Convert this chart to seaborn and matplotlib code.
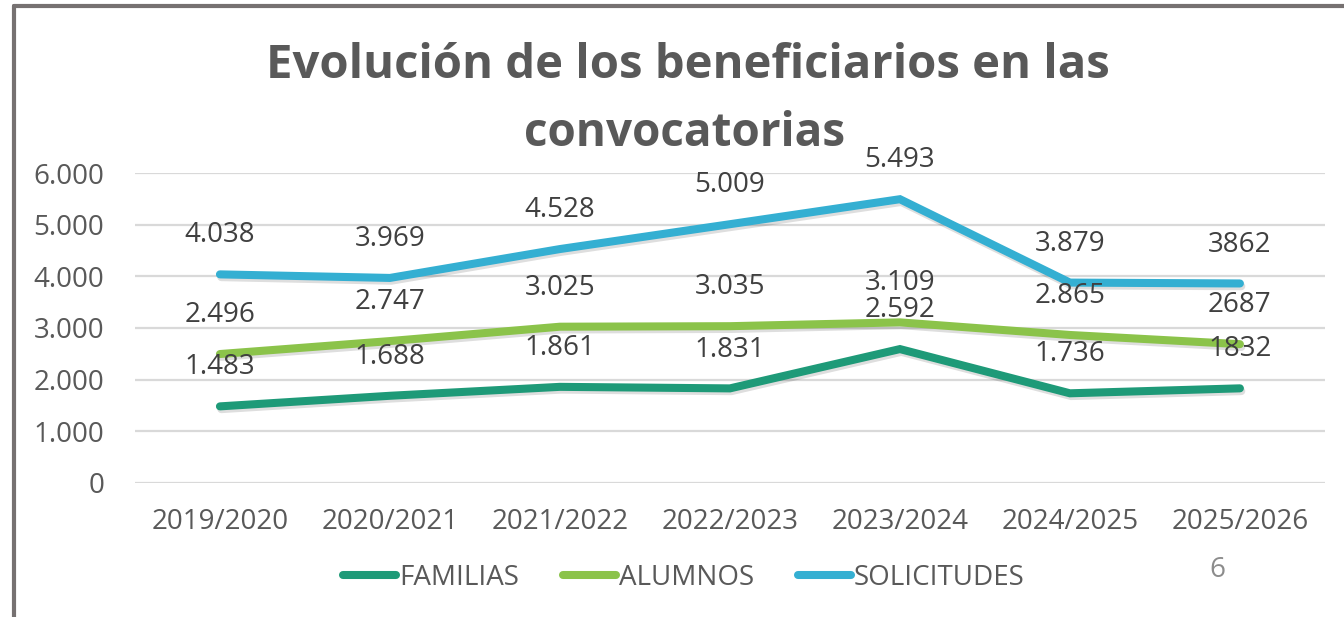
import matplotlib
matplotlib.use("Agg")
import matplotlib.pyplot as plt
import matplotlib.patheffects as pe
from matplotlib.lines import Line2D
from matplotlib.ticker import FuncFormatter, MultipleLocator
import seaborn as sns
import pandas as pd

# ---- data ----
seasons = ["2019/2020", "2020/2021", "2021/2022", "2022/2023",
           "2023/2024", "2024/2025", "2025/2026"]
familias = [1483, 1688, 1861, 1831, 2592, 1736, 1832]
alumnos = [2496, 2747, 3025, 3035, 3109, 2865, 2687]
solicitudes = [4038, 3969, 4528, 5009, 5493, 3879, 3862]
series_names = ["FAMILIAS", "ALUMNOS", "SOLICITUDES"]
# data labels in the last season are printed without thousands separator
label_uses_separator = [True, True, True, True, True, True, False]
title_line1 = "Evolución de los beneficiarios en las"
title_line2 = "convocatorias"
page_number = "6"

colors = {"FAMILIAS": "#1E9A78", "ALUMNOS": "#8BC34A", "SOLICITUDES": "#34AFD2"}

sns.set_theme(style="white")
plt.rcParams["font.family"] = ["Open Sans", "DejaVu Sans"]

values = {"FAMILIAS": familias, "ALUMNOS": alumnos, "SOLICITUDES": solicitudes}
rows = []
for name in series_names:
    for s, v in zip(seasons, values[name]):
        rows.append({"season": s, "value": v, "serie": name})
df = pd.DataFrame(rows)

fig = plt.figure(figsize=(13.44, 6.17), dpi=100)
ax = fig.add_axes([0.1004, 0.2172, 0.8854, 0.5024])

sns.lineplot(data=df, x="season", y="value", hue="serie", hue_order=series_names,
             palette=colors, linewidth=5.8, sort=False, ax=ax, legend=False,
             solid_capstyle="round", solid_joinstyle="miter")
for line in ax.get_lines():
    line.set_path_effects([pe.SimpleLineShadow(offset=(1.0, -2.0), alpha=0.13, shadow_color="black"),
                           pe.Normal()])
    line.set_zorder(3)

def fmt_thousands(v, sep=True):
    return f"{int(v):,}".replace(",", ".") if sep else f"{int(v)}"

for name in series_names:
    for i, v in enumerate(values[name]):
        ax.annotate(fmt_thousands(v, label_uses_separator[i]), (i, v),
                    xytext=(0, 28), textcoords="offset points",
                    ha="center", va="center", fontsize=20, color="#404040", zorder=5)

ax.set_ylim(0, 6000)
ax.set_xlim(-0.5, len(seasons) - 0.5)
ax.yaxis.set_major_locator(MultipleLocator(1000))
ax.yaxis.set_major_formatter(FuncFormatter(lambda v, p: fmt_thousands(v)))
ax.grid(axis="y", color="#D9D9D9", linewidth=1.6)
ax.grid(axis="x", visible=False)
for sp in ax.spines.values():
    sp.set_visible(False)
ax.tick_params(axis="y", length=0, pad=22, labelsize=20, labelcolor="#595959")
ax.tick_params(axis="x", length=0, pad=18, labelsize=20, labelcolor="#595959")
ax.set_xlabel("")
ax.set_ylabel("")

fig.text(0.512, 1 - 66 / 617, title_line1, ha="center", va="center", fontsize=34,
         fontweight="bold", color="#595959")
fig.text(0.509, 1 - 134 / 617, title_line2, ha="center", va="center", fontsize=33,
         fontweight="bold", color="#595959")

handles = [Line2D([0], [0], color=colors[n], linewidth=5.8, solid_capstyle="round")
           for n in series_names]
leg = fig.legend(handles, series_names, loc="center", bbox_to_anchor=(0.509, 1 - 578 / 617),
                 ncol=3, frameon=False, fontsize=20, handlelength=1.9,
                 handletextpad=0.1, columnspacing=1.6)
for t in leg.get_texts():
    t.set_color("#595959")

fig.text(0.906, 1 - 570 / 617, page_number, ha="center", va="center", fontsize=20, color="#8C8C8C")

# frame lines of the slide
fig.add_artist(Line2D([0.0104, 0.0104], [0.0, 0.9903], transform=fig.transFigure,
                      color="#767171", linewidth=3))
fig.add_artist(Line2D([0.0104, 1.0], [0.9903, 0.9903], transform=fig.transFigure,
                      color="#767171", linewidth=3))

fig.savefig("out.png", dpi=100)
